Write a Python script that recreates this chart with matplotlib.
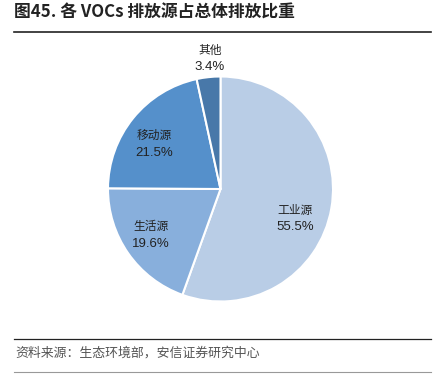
import matplotlib
matplotlib.use("Agg")
import matplotlib.pyplot as plt
from matplotlib.lines import Line2D
import numpy as np

plt.rcParams['font.family'] = ['Noto Sans CJK SC', 'DejaVu Sans']

categories = ['工业源', '生活源', '移动源', '其他']
values = [55.5, 19.6, 21.5, 3.4]
colors = ['#b9cde6', '#88afdc', '#5590cb', '#4878a9']

fig = plt.figure(figsize=(4.39, 3.78), dpi=100)
cx, cy = 220.5 / 439, 1 - 189 / 378
w_, h_ = 225 / 439, 225 / 378
ax = fig.add_axes([cx - w_ / 2, cy - h_ / 2, w_, h_])
wedges, _ = ax.pie(values, colors=colors, startangle=90, counterclock=False,
                   wedgeprops=dict(edgecolor='white', linewidth=1.5))
ax.set_aspect('equal')
ax.set_xlim(-1, 1); ax.set_ylim(-1, 1)

# label placement (radius fraction, angle offset in degrees) per wedge
label_r = [0.712, 0.741, 0.716, 1.164]
angle_adj = [-11.7, -1.4, 4.7, -1.5]
for w, cat, v, r, da in zip(wedges, categories, values, label_r, angle_adj):
    mid = np.deg2rad((w.theta1 + w.theta2) / 2 + da)
    x, y = r * np.cos(mid), r * np.sin(mid)
    ax.text(x, y + 0.075, cat, ha='center', va='center', fontsize=8.5, color='#222222')
    ax.text(x, y - 0.08, f'{v}%', ha='center', va='center', fontsize=9.5, color='#222222',
            family=['Liberation Sans', 'DejaVu Sans'])

fig.text(0.032, 0.966, '图45. 各 VOCs 排放源占总体排放比重', fontsize=12.1, fontweight='bold',
         va='center', ha='left', color='#222222')
fig.add_artist(Line2D([0.032, 0.982], [0.915, 0.915], color='#222222', lw=1.2))
fig.add_artist(Line2D([0.032, 0.982], [0.103, 0.103], color='#222222', lw=0.9))
fig.text(0.034, 0.067, '资料来源：生态环境部，安信证券研究中心', fontsize=9.3,
         va='center', ha='left', color='#555555')
fig.add_artist(Line2D([0.032, 0.982], [0.016, 0.016], color='#999999', lw=0.8))

fig.savefig('out.png', dpi=100, facecolor='white')
